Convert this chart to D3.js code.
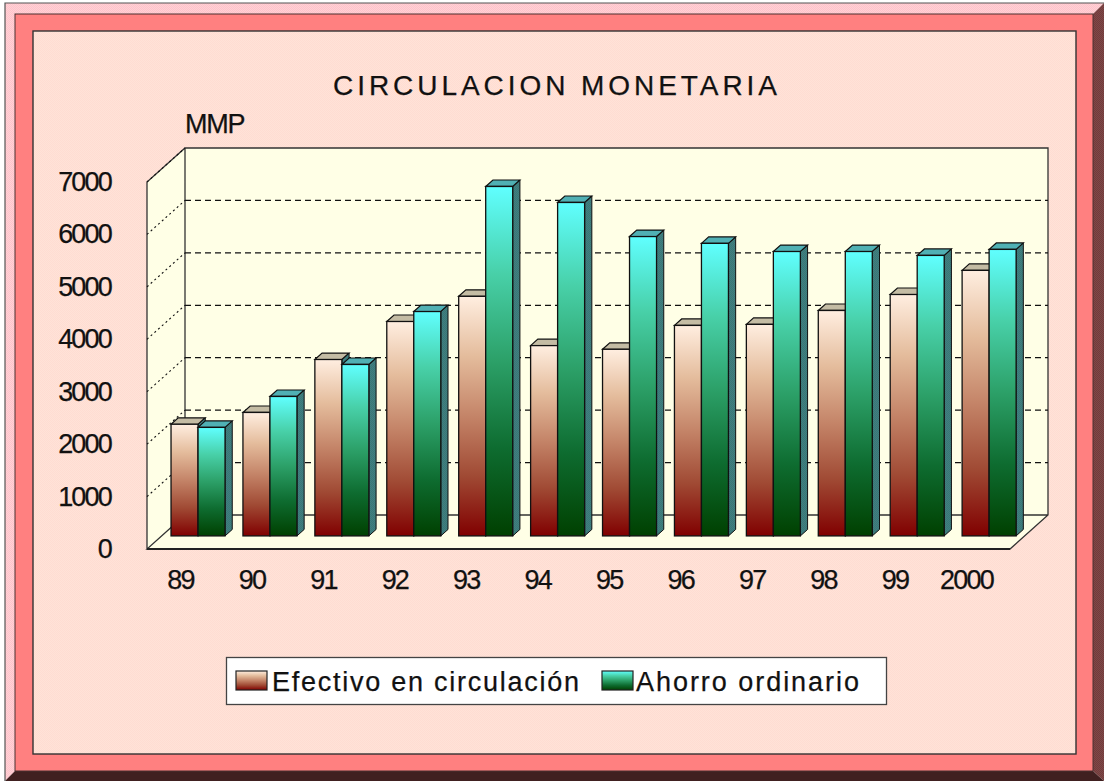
<!DOCTYPE html>
<html><head><meta charset="utf-8">
<script src="https://cdn.jsdelivr.net/npm/d3@7/dist/d3.min.js"></script>
<style>html,body{margin:0;padding:0;background:#fff;overflow:hidden}svg{display:block}text{font-family:"Liberation Sans",Arial,sans-serif;fill:#111;stroke:#111;stroke-width:.25px}</style>
</head><body><svg id="c" width="1104" height="781"></svg>
<script>
const years=["89","90","91","92","93","94","95","96","97","98","99","2000"];
const efectivo=[2130,2355,3365,4090,4570,3630,3560,4015,4035,4300,4605,5065];
const ahorro=[2070,2660,3270,4280,6665,6360,5710,5580,5425,5425,5350,5465];
const yTicks=[0,1000,2000,3000,4000,5000,6000,7000];
const seriesNames=["Efectivo en circulación","Ahorro ordinario"];

const svg=d3.select("#c"),defs=svg.append("defs");
const grad=(id,stops)=>{const g=defs.append("linearGradient").attr("id",id).attr("x1",0).attr("x2",0).attr("y1",0).attr("y2",1);
  stops.forEach(([o,c])=>g.append("stop").attr("offset",o).attr("stop-color",c));};
grad("gE",[[0,"#ffeee0"],[.25,"#e4bc9c"],[.5,"#c48468"],[.75,"#a04a34"],[1,"#800000"]]);
grad("gA",[[0,"#60ffff"],[.25,"#48d0a8"],[.5,"#2ca068"],[.75,"#0e6c30"],[1,"#004000"]]);
const pat=(id,a,b)=>{const p=defs.append("pattern").attr("id",id).attr("width",2).attr("height",2).attr("patternUnits","userSpaceOnUse");
  p.append("rect").attr("width",2).attr("height",2).attr("fill",a);
  p.append("rect").attr("width",1).attr("height",1).attr("fill",b);
  p.append("rect").attr("x",1).attr("y",1).attr("width",1).attr("height",1).attr("fill",b);};
pat("pPanel","#ffe3d8","#ffdcd2");pat("pBevel","#ffd4d4","#ffc0cc");pat("pRight","#804848","#703c3c");
pat("pSide","#408080","#3a7676");

const poly=(pts,fill,stroke,sw)=>svg.append("polygon").attr("points",pts.map(p=>p.join(",")).join(" ")).attr("fill",fill).attr("stroke",stroke||"none").attr("stroke-width",sw||0);

// frame
svg.append("rect").attr("width",1104).attr("height",781).attr("fill","#fff");
poly([[5,3],[1104,3],[1093,14],[15,14],[15,771],[5,781]],"url(#pBevel)");
poly([[1104,3],[1104,781],[1093,771],[1093,14]],"url(#pRight)");
poly([[5,781],[1104,781],[1093,771],[15,771]],"#402020");
svg.append("path").attr("d","M5,781V3H1104").attr("fill","none").attr("stroke","#555").attr("stroke-width",1.2);
svg.append("rect").attr("x",15).attr("y",14).attr("width",1078).attr("height",757).attr("fill","#ff8080").attr("stroke","#4a3030").attr("stroke-width",1);
svg.append("rect").attr("x",33).attr("y",31).attr("width",1043).attr("height",723).attr("fill","url(#pPanel)").attr("stroke","#333").attr("stroke-width",1.4);

// scales
const x0=147,x1=1010,dx=38,dy=-34;
const y=d3.scaleLinear().domain([0,7000]).range([549,182]);
const band=d3.scaleBand().domain(years).range([x0,x1]);
const lab=d3.scalePoint().domain(years).range([180,966]);
const ser=d3.scaleBand().domain([0,1]).range([9.4,63.4]);
const fz=.385,bz=.19; // bar offset into the floor depth, bar depth

// walls
const yT=y(7000),yB=y(0);
poly([[x0+dx,yT+dy],[x1+dx,yT+dy],[x1+dx,yB+dy],[x1,yB],[x0,yB],[x0,yT]],"#ffffe6");
svg.append("path").attr("d",`M${x0},${yB}V${yT}L${x0+dx},${yT+dy}H${x1+dx}V${yB+dy}L${x1},${yB}H${x0}L${x0+dx},${yB+dy}H${x1+dx}M${x0+dx},${yT+dy}V${yB+dy}`)
  .attr("fill","none").attr("stroke","#333").attr("stroke-width",1.3);
svg.append("line").attr("x1",x0).attr("x2",x1).attr("y1",yB).attr("y2",yB).attr("stroke","#222").attr("stroke-width",2);
yTicks.filter(t=>t>0&&t<7000).forEach(t=>{
  svg.append("line").attr("x1",x0+dx).attr("x2",x1+dx).attr("y1",y(t)+dy).attr("y2",y(t)+dy).attr("stroke","#111").attr("stroke-width",1.3).attr("stroke-dasharray","6 4");
});
yTicks.filter(t=>t>0).forEach(t=>{
  svg.append("line").attr("x1",x0).attr("x2",x0+dx).attr("y1",y(t)).attr("y2",y(t)+dy).attr("stroke","#111").attr("stroke-width",1.1).attr("stroke-dasharray","2 3");
});

// bars
const ox=dx*fz,oy=dy*fz,sx=dx*bz,sy=dy*bz;
const groups=[[efectivo,"url(#gE)","#c4bca4"],[ahorro,"url(#gA)","#50b0b4"]];
years.forEach((yr,i)=>{
  groups.forEach(([vals,fill,top],s)=>{
    const l=band(yr)+ser(s)+ox,w=ser.bandwidth(),t=y(vals[i])+oy,base=y(0)+oy;
    poly([[l+w,t],[l+w+sx,t+sy],[l+w+sx,base+sy],[l+w,base]],"url(#pSide)","#111",1);
    poly([[l,t],[l+sx,t+sy],[l+w+sx,t+sy],[l+w,t]],top,"#111",1.2);
    svg.append("rect").attr("x",l).attr("y",t).attr("width",w).attr("height",base-t).attr("fill",fill).attr("stroke","#111").attr("stroke-width",1.3);
  });
});

// axes
const axL=svg.append("g").attr("transform","translate(111,-1)").call(d3.axisLeft(y).tickValues(yTicks).tickSize(0).tickPadding(0).tickFormat(d3.format("d")));
const axB=svg.append("g").attr("transform","translate(0,568)").call(d3.axisBottom(lab).tickSize(0).tickPadding(0));
[axL,axB].forEach(a=>{a.select(".domain").remove();
  a.attr("font-family",null).attr("font-size",null);
  a.selectAll("text").style("font-size","27px").style("letter-spacing","-1.8px");});
axL.selectAll("text").attr("dy","0.35em");
axB.selectAll("text").attr("y",0).attr("dy","0.76em");

// titles
svg.append("text").attr("x",333).attr("y",95).attr("font-size",28).attr("textLength",444).attr("lengthAdjust","spacing").text("CIRCULACION MONETARIA");
svg.append("text").attr("x",185).attr("y",133).attr("font-size",27).style("letter-spacing","-1.2px").text("MMP");

// legend
svg.append("rect").attr("x",226.5).attr("y",657.5).attr("width",660).attr("height",47).attr("fill","#fff").attr("stroke","#444").attr("stroke-width",1.3);
[[236,272,307,"url(#gE)"],[602,636,223,"url(#gA)"]].forEach(([sxx,tx,tl,f],i)=>{
  svg.append("rect").attr("x",sxx).attr("y",671).attr("width",31).attr("height",19).attr("fill",f).attr("stroke","#222").attr("stroke-width",1.2);
  svg.append("text").attr("x",tx).attr("y",691).attr("font-size",27).attr("textLength",tl).attr("lengthAdjust","spacing").text(seriesNames[i]);
});
</script></body></html>
